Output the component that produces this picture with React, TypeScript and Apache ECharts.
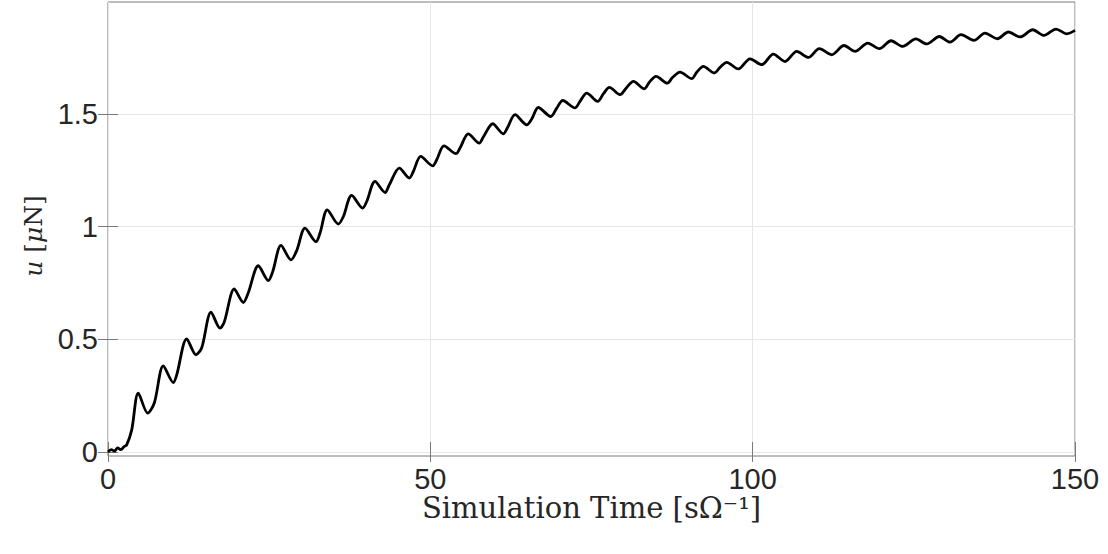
import React, { useEffect, useRef } from "react";
import * as echarts from "echarts";

const timeValues = [
  0, 0.5, 1.0, 1.5, 2.0, 2.5, 2.9, 3.68,
  4.70, 6.16, 7.18, 8.58, 10.13, 10.66, 12.21, 13.65, 14.54, 15.98, 17.38, 18.04,
  19.59, 20.99, 21.76, 23.32, 24.87, 25.55, 26.84, 28.39, 29.27, 30.56, 32.27, 32.89,
  34.02, 35.73, 36.50, 37.80, 39.51, 40.13, 41.42, 42.97, 43.64, 45.19, 46.74, 47.36,
  48.51, 50.37, 50.99, 52.12, 53.98, 54.60, 55.89, 57.60, 58.22, 59.68, 61.32, 61.94,
  63.14, 64.95, 65.73, 66.75, 68.68, 69.61, 70.54, 72.44, 73.22, 74.26, 75.96, 76.83,
  77.77, 79.42, 80.46, 81.49, 83.19, 83.97, 85.01, 86.76, 87.60, 88.73, 90.55, 91.32,
  92.35, 94.05, 94.94, 95.97, 97.77, 99.59, 101.40, 103.20, 105.02, 106.83, 108.63,
  110.34, 112.26, 114.17, 115.88, 117.85, 119.65, 121.46, 123.28, 125.31, 127.00,
  128.95, 130.61, 132.32, 134.33, 136.04, 137.95, 139.66, 141.48, 143.44, 145.20,
  147.06, 148.72, 150,
];

const forceValues = [
  0, 0.010, 0.004, 0.018, 0.010, 0.024, 0.031, 0.098,
  0.261, 0.172, 0.217, 0.382, 0.308, 0.342, 0.502, 0.431, 0.462, 0.620, 0.549, 0.577,
  0.723, 0.663, 0.706, 0.826, 0.760, 0.800, 0.916, 0.852, 0.893, 0.993, 0.933, 0.971,
  1.074, 1.011, 1.044, 1.138, 1.082, 1.111, 1.200, 1.151, 1.185, 1.259, 1.215, 1.244,
  1.311, 1.269, 1.296, 1.358, 1.323, 1.348, 1.411, 1.370, 1.397, 1.456, 1.411, 1.437,
  1.496, 1.451, 1.477, 1.528, 1.488, 1.525, 1.559, 1.526, 1.555, 1.592, 1.555, 1.588,
  1.617, 1.585, 1.617, 1.644, 1.611, 1.640, 1.666, 1.636, 1.662, 1.685, 1.656, 1.684,
  1.710, 1.681, 1.706, 1.728, 1.699, 1.744, 1.718, 1.765, 1.732, 1.777, 1.750,
  1.789, 1.762, 1.803, 1.777, 1.814, 1.789, 1.824, 1.799, 1.832, 1.810,
  1.843, 1.818, 1.851, 1.826, 1.858, 1.833, 1.863, 1.841, 1.873, 1.848,
  1.876, 1.855, 1.870,
];

const xTicks = [0, 50, 100, 150];
const yTicks = [0, 0.5, 1, 1.5];

export default function App() {
  const ref = useRef<HTMLDivElement>(null);

  useEffect(() => {
    document.body.style.margin = "0";
    if (!ref.current) return;
    const chart = echarts.init(ref.current, null, { renderer: "svg" });
    const data = timeValues.map((t, i) => [t, forceValues[i]]);
    const frame = "#7a7a7a";
    const serif = "DejaVu Serif, Liberation Serif, serif";
    const labelFont = {
      fontFamily: "Liberation Sans, Arial, sans-serif",
      fontSize: 29,
      color: "#262626",
    };
    const yLabelFmt = (v: number) => (v === 0 ? "0" : String(v));
    chart.setOption({
      animation: false,
      backgroundColor: "#ffffff",
      grid: {
        left: 108,
        right: 33,
        top: 2,
        bottom: 98,
        show: true,
        borderColor: frame,
        borderWidth: 1,
        backgroundColor: "transparent",
      },
      xAxis: [
        {
          type: "value",
          min: 0,
          max: 150,
          interval: 50,
          axisLine: { show: false },
          axisTick: { show: true, inside: true, length: 10, lineStyle: { color: frame } },
          axisLabel: {
            ...labelFont,
            margin: 13,
            lineHeight: 20,
            customValues: xTicks,
            formatter: (v: number) => String(v),
          },
          splitLine: { show: true, lineStyle: { color: "#e6e6e6", width: 1 } },
          name: "Simulation Time [sΩ⁻¹]",
          nameLocation: "middle",
          nameGap: 40,
          nameMoveOverlap: false,
          nameTextStyle: {
            fontFamily: serif,
            fontSize: 29,
            lineHeight: 24,
            color: "#262626",
          },
        },
        {
          type: "value",
          position: "top",
          min: 0,
          max: 150,
          interval: 50,
          axisLine: { show: false },
          axisTick: { show: true, inside: true, length: 10, lineStyle: { color: frame } },
          axisLabel: { show: false },
          splitLine: { show: false },
        },
      ],
      yAxis: [
        {
          type: "value",
          min: -0.018,
          max: 1.996,
          axisLine: { show: false },
          axisTick: {
            show: true,
            inside: true,
            length: 10,
            customValues: yTicks,
            lineStyle: { color: frame },
          },
          axisLabel: { ...labelFont, margin: 10, customValues: yTicks, formatter: yLabelFmt },
          splitLine: { show: true, lineStyle: { color: "#e6e6e6", width: 1 } },
          name: "{it|u} [{it|μ}N]",
          nameLocation: "middle",
          nameGap: 62,
          nameMoveOverlap: false,
          nameTextStyle: {
            fontFamily: serif,
            fontSize: 25,
            color: "#262626",
            padding: [0, 14, 0, 0],
            rich: {
              it: {
                fontFamily: serif,
                fontStyle: "italic",
                fontSize: 25,
                color: "#262626",
              },
            },
          },
        },
        {
          type: "value",
          position: "right",
          min: -0.018,
          max: 1.996,
          axisLine: { show: false },
          axisTick: {
            show: true,
            inside: true,
            length: 10,
            customValues: yTicks,
            lineStyle: { color: frame },
          },
          axisLabel: { show: false, customValues: yTicks },
          splitLine: { show: false },
        },
      ],
      series: [
        {
          type: "line",
          data,
          xAxisIndex: 0,
          yAxisIndex: 0,
          showSymbol: false,
          smooth: 0.3,
          lineStyle: { color: "#000000", width: 2.8 },
          emphasis: { disabled: true },
        },
      ],
    });
    return () => chart.dispose();
  }, []);

  return (
    <div
      ref={ref}
      style={{ position: "fixed", left: 0, top: 0, width: 1108, height: 554 }}
    />
  );
}
